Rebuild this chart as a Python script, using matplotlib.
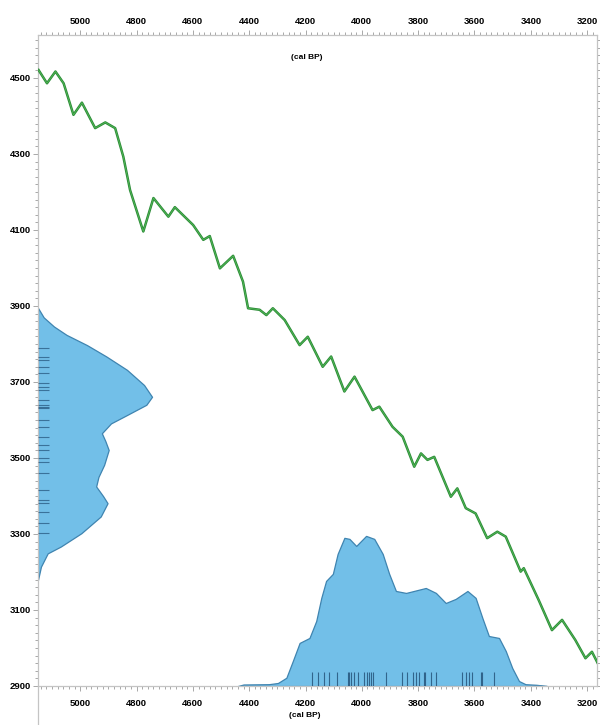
import matplotlib
matplotlib.use("Agg")
import matplotlib.pyplot as plt
from matplotlib.lines import Line2D
from matplotlib.ticker import FixedLocator, MultipleLocator

# calibration curve: calendar age (cal BP) vs radiocarbon age (14C BP)
curve_cal = [5148, 5118, 5088, 5059, 5024, 4994, 4947, 4911, 4876, 4847,
             4823, 4776, 4740, 4687, 4664, 4599, 4563, 4540, 4504, 4457,
             4422, 4404, 4363, 4339, 4316, 4274, 4221, 4192, 4139, 4109,
             4062, 4026, 3962, 3938, 3891, 3855, 3814, 3790, 3767, 3743,
             3684, 3661, 3631, 3596, 3555, 3519, 3489, 3436, 3425, 3372,
             3325, 3289, 3242, 3206, 3183, 3159]
curve_c14 = [4521, 4486, 4517, 4486, 4403, 4435, 4368, 4383, 4368, 4293,
             4205, 4096, 4184, 4135, 4160, 4113, 4074, 4084, 3999, 4032,
             3964, 3894, 3890, 3876, 3894, 3863, 3797, 3819, 3740, 3767,
             3675, 3714, 3626, 3635, 3582, 3556, 3477, 3512, 3495, 3503,
             3398, 3420, 3368, 3354, 3289, 3306, 3293, 3201, 3210, 3126,
             3047, 3074, 3021, 2973, 2990, 2955]

# summed radiocarbon distribution (left margin), relative density
c14_age = [3895, 3870, 3846, 3824, 3797, 3767, 3732, 3692, 3661, 3640,
           3613, 3591, 3565, 3545, 3521, 3482, 3450, 3425, 3400, 3381,
           3346, 3302, 3267, 3249, 3214, 3179]
c14_density = [0.0, 0.05, 0.14, 0.25, 0.43, 0.60, 0.78, 0.93, 1.00, 0.95,
               0.78, 0.64, 0.56, 0.59, 0.62, 0.58, 0.53, 0.51, 0.57, 0.61,
               0.55, 0.38, 0.20, 0.085, 0.026, 0.0]
c14_dates = [3789, 3767, 3758, 3740, 3723, 3697, 3688, 3679, 3653, 3640,
             3635, 3631, 3600, 3582, 3556, 3534, 3521, 3499, 3490, 3460,
             3416, 3390, 3381, 3359, 3328, 3302]

# summed calibrated distribution (bottom margin), relative density
cal_age = [4440, 4420, 4330, 4298, 4268, 4245, 4221, 4186, 4162, 4144,
           4127, 4103, 4086, 4062, 4044, 4020, 3985, 3956, 3926, 3903,
           3879, 3843, 3773, 3737, 3702, 3667, 3625, 3596, 3572, 3549,
           3513, 3489, 3466, 3442, 3419, 3380, 3343]
cal_density = [0.0, 0.01, 0.012, 0.02, 0.055, 0.167, 0.287, 0.32, 0.433, 0.587,
               0.70, 0.747, 0.88, 0.987, 0.98, 0.933, 1.0, 0.98, 0.88, 0.747,
               0.633, 0.62, 0.653, 0.62, 0.553, 0.58, 0.633, 0.587, 0.453, 0.333,
               0.32, 0.233, 0.12, 0.033, 0.012, 0.008, 0.0]
cal_dates = [4176, 4156, 4136, 4115, 4089, 4050, 4044, 4038, 4027, 4015,
             3991, 3983, 3976, 3967, 3959, 3914, 3856, 3838, 3820, 3808,
             3796, 3779, 3775, 3755, 3737, 3643, 3631, 3619, 3608, 3578,
             3572, 3531]

x_ticks = [5000, 4800, 4600, 4400, 4200, 4000, 3800, 3600, 3400, 3200]
y_ticks = [4500, 4300, 4100, 3900, 3700, 3500, 3300, 3100, 2900]
axis_label = "(cal BP)"

XLIM = (5150, 3165)
YLIM = (2900, 4613)
FILL = "#72bfe8"
EDGE = "#3f84b0"
RUG = "#163f66"
SPINE = "#c4c4c4"
TICK = "#9a9a9a"
FONT_SIZE = 6.8

plt.rcParams["font.family"] = ["Liberation Sans", "DejaVu Sans"]

fig = plt.figure(figsize=(6.0, 7.25), dpi=100)
ax = fig.add_axes([0.0633, 0.0538, 0.9317, 0.8979])
ax.set_xlim(*XLIM)
ax.set_ylim(*YLIM)

# left marginal: radiocarbon ages
c14_width = 405
x0 = XLIM[0]
ax.fill_betweenx(c14_age, x0, [x0 - d * c14_width for d in c14_density],
                 color=FILL, edgecolor=EDGE, linewidth=0.9, zorder=2)
ax.hlines(c14_dates, x0, x0 - 40, color=RUG, alpha=0.6, linewidth=0.8, zorder=3)

# bottom marginal: calibrated ages
cal_height = 395
y0 = YLIM[0]
ax.fill_between(cal_age, y0, [y0 + d * cal_height for d in cal_density],
                color=FILL, edgecolor=EDGE, linewidth=0.9, zorder=2)
ax.vlines(cal_dates, y0, y0 + 37, color=RUG, alpha=0.7, linewidth=0.8, zorder=3)

# calibration curve
ax.plot(curve_cal, curve_c14, color="#2b8a37", linewidth=1.8,
        solid_joinstyle="round", zorder=4)
ax.plot(curve_cal, curve_c14, color="#52b856", linewidth=0.6,
        solid_joinstyle="round", zorder=5)

# axes styling
for side in ["left", "right", "top", "bottom"]:
    ax.spines[side].set_color(SPINE)
    ax.spines[side].set_linewidth(0.9)

ax.xaxis.set_major_locator(FixedLocator(x_ticks))
ax.xaxis.set_minor_locator(MultipleLocator(20))
ax.yaxis.set_major_locator(FixedLocator(y_ticks))
ax.yaxis.set_minor_locator(MultipleLocator(20))

label_font = dict(fontsize=FONT_SIZE - 0.8, fontweight="bold")
ax.tick_params(which="both", direction="out", color=TICK, width=0.6)
ax.tick_params(which="major", length=3.5)
ax.tick_params(which="minor", length=2)
ax.tick_params(axis="x", which="both", top=True, labeltop=False, pad=6)
ax.tick_params(axis="y", which="both", right=True, labelright=False, pad=1.5)
for lbl in ax.get_xticklabels() + ax.get_yticklabels():
    lbl.set_fontsize(FONT_SIZE)
    lbl.set_fontweight("bold")

top = ax.secondary_xaxis("top")
top.set_xticks(x_ticks)
top.tick_params(length=0, pad=6.5)
top.spines["top"].set_visible(False)
for lbl in top.get_xticklabels():
    lbl.set_fontsize(FONT_SIZE)
    lbl.set_fontweight("bold")

ax.text(0.48, 0.966, axis_label, transform=ax.transAxes, ha="center",
        va="center", **label_font)
fig.text(0.508, 0.013, axis_label, ha="center", va="center", **label_font)

# left spine runs past the bottom axis to the figure edge
fig.add_artist(Line2D([0.0633, 0.0633], [0.0, 0.0538], color=SPINE,
                      linewidth=0.9, transform=fig.transFigure))

fig.savefig("out.png", dpi=100)
